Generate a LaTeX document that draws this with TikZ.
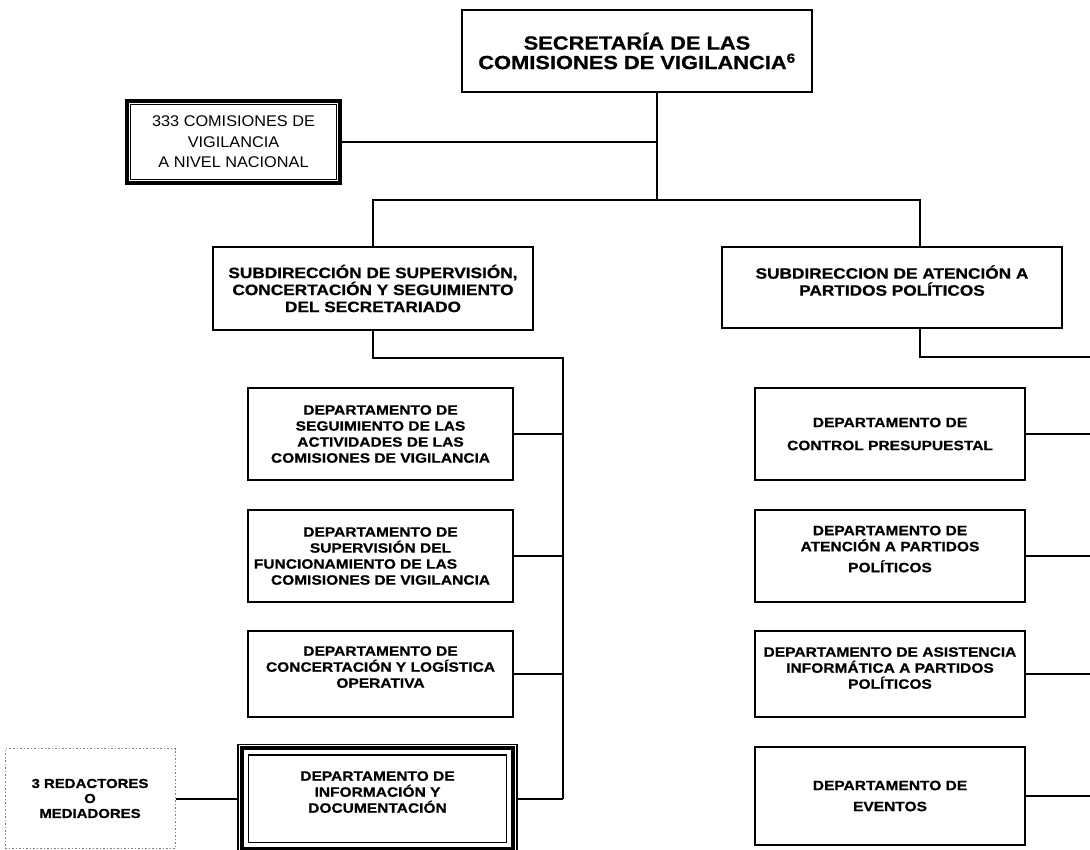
\documentclass[tikz,border=0pt]{standalone}
\usepackage{fontspec}
\setmainfont{Liberation Sans}
\newfontfamily\widefont[FakeStretch=1.15,FakeBold=0.8]{Liberation Sans}
\newfontfamily\plainfont[FakeStretch=1.05]{Liberation Sans}
\usetikzlibrary{
    positioning
}

\begin{document}
\begin{tikzpicture}[x=1pt,y=-1pt,
    every node/.style={align=center,inner sep=0pt},
    box/.style={draw,line width=2.4pt,font=\widefont\bfseries\fontsize{13.5}{16}\selectfont},
    dept/.style={box,minimum height=92pt},
    subdir/.style={box,font=\widefont\bfseries\fontsize{15}{17}\selectfont},
    conn/.style={line width=2pt}
]
    \useasboundingbox (0,0) rectangle (1090,849);
    \clip (0,0) rectangle (1090,849);

    % head and committees
    \node[box,minimum width=350pt,minimum height=82pt,font=\widefont\bfseries\fontsize{19}{19.5}\selectfont] (secretaria) at (637,51)
        {SECRETARÍA DE LAS\\COMISIONES DE VIGILANCIA\textsuperscript{6}};
    \node[draw,line width=3.5pt,minimum width=213pt,minimum height=82pt,font=\plainfont\fontsize{15.5}{20.5}\selectfont] (comisiones) at (233.5,142)
        {333 COMISIONES DE\\VIGILANCIA\\A NIVEL NACIONAL};
    \draw[line width=1pt] ([shift={(5pt,-5pt)}]comisiones.north west) rectangle ([shift={(-5pt,5pt)}]comisiones.south east);

    % subdirections
    \node[subdir,minimum width=320pt,minimum height=83pt] (subA) at (373,288.5)
        {SUBDIRECCIÓN DE SUPERVISIÓN,\\CONCERTACIÓN Y SEGUIMIENTO\\DEL SECRETARIADO};
    \node[subdir,minimum width=340pt,minimum height=81pt] (subB) at (892,287.5)
        {SUBDIRECCION DE ATENCIÓN A\\PARTIDOS POLÍTICOS\\[-3pt]};

    % left departments
    \node[dept,minimum width=265pt] (seguimiento) at (380.5,434)
        {DEPARTAMENTO DE\\SEGUIMIENTO DE LAS\\ACTIVIDADES DE LAS\\COMISIONES DE VIGILANCIA};
    \node[dept,minimum width=265pt] (supervision) at (380.5,556)
        {DEPARTAMENTO DE\\SUPERVISIÓN DEL\\FUNCIONAMIENTO DE LAS\hspace*{50pt}\mbox{}\\COMISIONES DE VIGILANCIA};
    \node[dept,minimum width=265pt,minimum height=86pt] (concertacion) at (380.5,674)
        {DEPARTAMENTO DE\\CONCERTACIÓN Y LOGÍSTICA\\OPERATIVA\\[-2pt]};
    \node[box,line width=1.2pt,minimum width=279pt,minimum height=108pt] (informacion) at (377.5,798.5)
        {DEPARTAMENTO DE\\INFORMACIÓN Y\\DOCUMENTACIÓN\\[-3pt]};
    \draw[line width=4pt] ([shift={(4.5pt,-4.5pt)}]informacion.north west) rectangle ([shift={(-4.5pt,4.5pt)}]informacion.south east);
    \draw[line width=1.2pt] ([shift={(11pt,-11pt)}]informacion.north west) rectangle ([shift={(-11pt,11pt)}]informacion.south east);
    \node[draw=gray,dash pattern=on 1.5pt off 2pt,line width=1pt,minimum width=170pt,minimum height=100pt,
        font=\widefont\bfseries\fontsize{13}{15}\selectfont] (redactores) at (90,798.5)
        {3 REDACTORES\\O\\MEDIADORES};

    % right departments
    \node[dept,minimum width=270pt] (presupuesto) at (890,434)
        {DEPARTAMENTO DE\\[7pt]CONTROL PRESUPUESTAL};
    \node[dept,minimum width=270pt] (atencion) at (890,556)
        {DEPARTAMENTO DE\\ATENCIÓN A PARTIDOS\\[5pt]POLÍTICOS\\[-2pt]};
    \node[dept,minimum width=270pt,minimum height=86pt] (asistencia) at (890,674)
        {DEPARTAMENTO DE ASISTENCIA\\INFORMÁTICA A PARTIDOS\\POLÍTICOS\\[-4pt]};
    \node[dept,minimum width=270pt,minimum height=98pt] (eventos) at (890,796)
        {DEPARTAMENTO DE\\[5pt]EVENTOS};

    % connectors
    \coordinate (hub) at (657,200);
    \coordinate (joinA) at (373,358);
    \coordinate (joinB) at (920,357);
    \coordinate (spineA) at (563,358);
    \coordinate (spineB) at (1100,357);

    \draw[conn] (secretaria.south -| hub) -- (hub);
    \draw[conn] (comisiones.east) -- (comisiones.east -| hub);
    \draw[conn] (subA.north) -- (joinA |- hub) -- (joinB |- hub) -- (joinB |- subB.north);
    \draw[conn] (subA.south) -- (joinA) -- (spineA) -- (spineA |- informacion.east);
    \draw[conn] (joinB |- subB.south) -- (joinB) -- (spineB) -- (spineB |- eventos.east);
    \foreach \d in {seguimiento,supervision,concertacion,informacion}
        \draw[conn] (\d.east) -- (\d.east -| spineA);
    \foreach \d in {presupuesto,atencion,asistencia,eventos}
        \draw[conn] (\d.east) -- (\d.east -| spineB);
    \draw[conn] (redactores.east) -- (informacion.west);
\end{tikzpicture}
\end{document}
